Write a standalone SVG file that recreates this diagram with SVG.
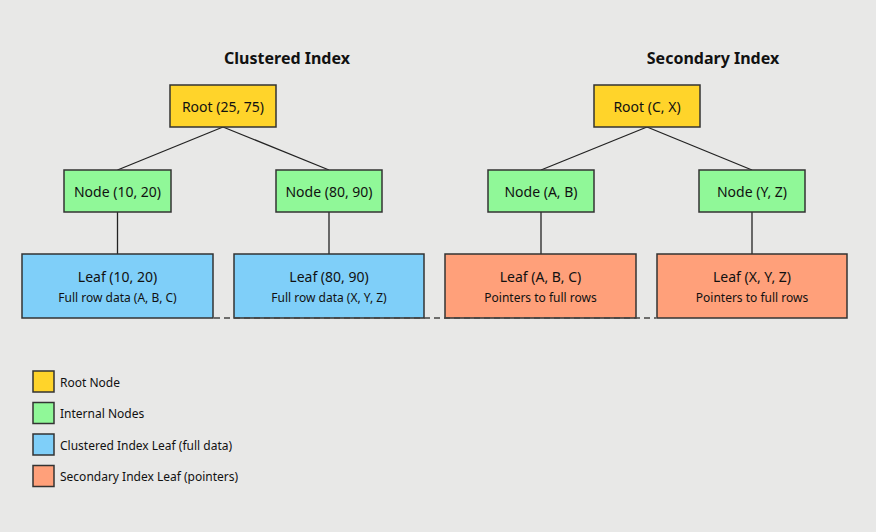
<svg xmlns="http://www.w3.org/2000/svg" width="876" height="532" viewBox="0 0 876 532">
<style>
text{font-family:"Noto Sans","DejaVu Sans",sans-serif;fill:#111;}
.title{font-size:16px;font-weight:bold;text-anchor:middle;}
.lbl{font-size:14px;text-anchor:middle;dominant-baseline:central;}
.sub{font-size:12px;text-anchor:middle;dominant-baseline:central;}
.leg{font-size:12px;dominant-baseline:central;}
.box{stroke:#333;stroke-width:1.5;}
.root{fill:#FFD42A;}
.inner{fill:#90F898;}
.cl{fill:#7FCFF9;}
.sec{fill:#FFA07A;}
.edge{stroke:#222;stroke-width:1.3;fill:none;}
.dash{stroke:#444;stroke-width:1.5;stroke-dasharray:6 4;fill:none;}
</style>
<rect width="876" height="532" fill="#E8E8E7"/>
<text class="title" x="287" y="64">Clustered Index</text>
<text class="title" x="713" y="64">Secondary Index</text>
<g id="connectors">
<line class="edge" x1="223" y1="127" x2="117.5" y2="170"/>
<line class="edge" x1="223" y1="127" x2="329" y2="170"/>
<line class="edge" x1="117.5" y1="212" x2="117.5" y2="254"/>
<line class="edge" x1="329" y1="212" x2="329" y2="254"/>
<line class="edge" x1="647" y1="127" x2="541" y2="170"/>
<line class="edge" x1="647" y1="127" x2="752" y2="170"/>
<line class="edge" x1="541" y1="212" x2="541" y2="254"/>
<line class="edge" x1="752" y1="212" x2="752" y2="254"/>
</g>
<g id="root-clustered"><rect class="box root" x="170" y="85" width="106" height="42"/><text class="lbl" x="223" y="106">Root (25, 75)</text></g>
<g id="node-10-20"><rect class="box inner" x="64" y="170" width="107" height="42"/><text class="lbl" x="117.5" y="191">Node (10, 20)</text></g>
<g id="node-80-90"><rect class="box inner" x="276" y="170" width="106" height="42"/><text class="lbl" x="329" y="191">Node (80, 90)</text></g>
<g id="leaf-10-20"><rect class="box cl" x="22" y="254" width="191" height="64"/><text class="lbl" x="117.5" y="276">Leaf (10, 20)</text><text class="sub" x="117.5" y="297">Full row data (A, B, C)</text></g>
<g id="leaf-80-90"><rect class="box cl" x="234" y="254" width="190" height="64"/><text class="lbl" x="329" y="276">Leaf (80, 90)</text><text class="sub" x="329" y="297">Full row data (X, Y, Z)</text></g>
<g id="root-secondary"><rect class="box root" x="594" y="85" width="106" height="42"/><text class="lbl" x="647" y="106">Root (C, X)</text></g>
<g id="node-a-b"><rect class="box inner" x="488" y="170" width="106" height="42"/><text class="lbl" x="541" y="191">Node (A, B)</text></g>
<g id="node-y-z"><rect class="box inner" x="699" y="170" width="106" height="42"/><text class="lbl" x="752" y="191">Node (Y, Z)</text></g>
<g id="leaf-a-b-c"><rect class="box sec" x="445" y="254" width="191" height="64"/><text class="lbl" x="540.5" y="276">Leaf (A, B, C)</text><text class="sub" x="540.5" y="297">Pointers to full rows</text></g>
<g id="leaf-x-y-z"><rect class="box sec" x="657" y="254" width="190" height="64"/><text class="lbl" x="752" y="276">Leaf (X, Y, Z)</text><text class="sub" x="752" y="297">Pointers to full rows</text></g>
<g id="leaf-links"><line class="dash" x1="214" y1="318" x2="656" y2="318"/></g>
<g id="legend">
<rect class="box root" x="33" y="371" width="21" height="21"/><text class="leg" x="60" y="382">Root Node</text>
<rect class="box inner" x="33" y="402.5" width="21" height="21"/><text class="leg" x="60" y="413.5">Internal Nodes</text>
<rect class="box cl" x="33" y="434" width="21" height="21"/><text class="leg" x="60" y="445">Clustered Index Leaf (full data)</text>
<rect class="box sec" x="33" y="465.5" width="21" height="21"/><text class="leg" x="60" y="476.5">Secondary Index Leaf (pointers)</text>
</g>
</svg>
